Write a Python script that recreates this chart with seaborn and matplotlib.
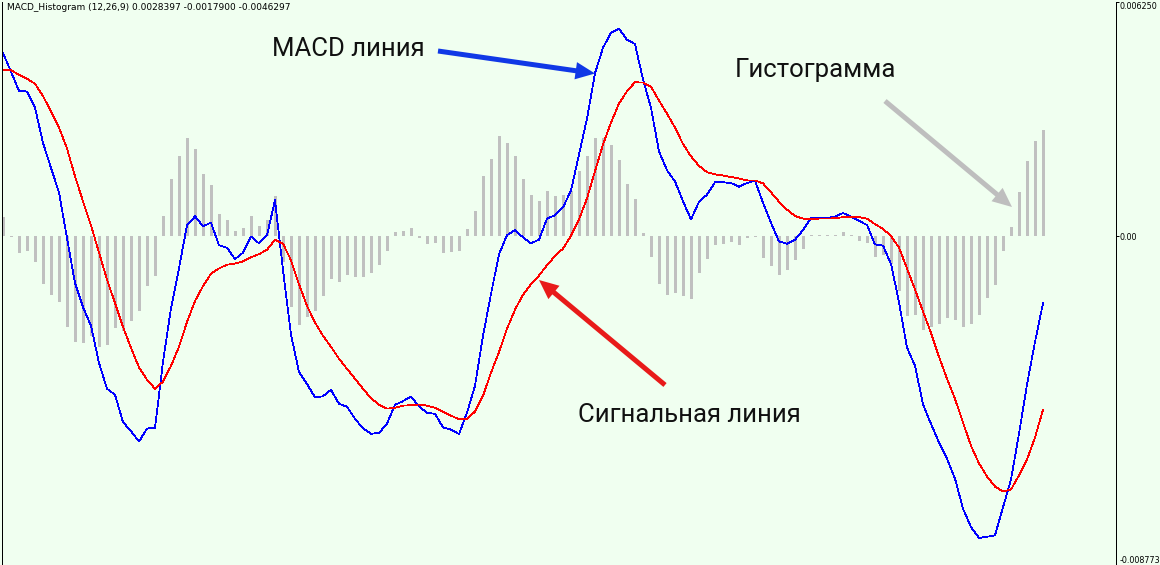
import numpy as np
import pandas as pd
import matplotlib
matplotlib.use("Agg")
import matplotlib.pyplot as plt
from matplotlib.patches import FancyArrowPatch
import seaborn as sns

# MACD (12,26,9) readings, one per bar
macd = [
    0.00489, 0.00439, 0.00388, 0.00386, 0.00343, 0.00249, 0.00182, 0.00117, -0.00005, -0.00125,
    -0.00189, -0.00239, -0.00338, -0.00407, -0.00423, -0.00496, -0.00520, -0.00548, -0.00513, -0.00512,
    -0.00335, -0.00192, -0.00085, 0.00029, 0.00053, 0.00027, 0.00036, -0.00024, -0.00031, -0.00061,
    -0.00044, -0.00001, -0.00019, 0.00003, 0.00096, -0.00090, -0.00263, -0.00362, -0.00394, -0.00430,
    -0.00427, -0.00410, -0.00447, -0.00455, -0.00487, -0.00513, -0.00527, -0.00525, -0.00500, -0.00450,
    -0.00440, -0.00428, -0.00454, -0.00471, -0.00474, -0.00510, -0.00516, -0.00528, -0.00471, -0.00399,
    -0.00266, -0.00154, -0.00048, 0.00003, 0.00016, -0.00003, -0.00019, -0.00009, 0.00047, 0.00056,
    0.00077, 0.00122, 0.00218, 0.00314, 0.00435, 0.00503, 0.00543, 0.00554, 0.00524, 0.00513,
    0.00418, 0.00343, 0.00226, 0.00176, 0.00146, 0.00093, 0.00045, 0.00092, 0.00111, 0.00144,
    0.00144, 0.00142, 0.00132, 0.00142, 0.00148, 0.00089, 0.00036, -0.00014, -0.00020, -0.00009,
    0.00016, 0.00049, 0.00049, 0.00049, 0.00052, 0.00062, 0.00052, 0.00041, 0.00030, -0.00022,
    -0.00025, -0.00074, -0.00176, -0.00297, -0.00346, -0.00448, -0.00501, -0.00550, -0.00594, -0.00647,
    -0.00727, -0.00776, -0.00805, -0.00802, -0.00798, -0.00724, -0.00649, -0.00527, -0.00396, -0.00282,
    -0.00179,
]

signal = [
    0.00444, 0.00443, 0.00431, 0.00420, 0.00407, 0.00374, 0.00333, 0.00290, 0.00234, 0.00160,
    0.00093, 0.00029, -0.00044, -0.00116, -0.00178, -0.00242, -0.00298, -0.00350, -0.00383, -0.00407,
    -0.00388, -0.00346, -0.00295, -0.00229, -0.00173, -0.00133, -0.00100, -0.00086, -0.00076, -0.00073,
    -0.00067, -0.00056, -0.00048, -0.00036, -0.00009, -0.00020, -0.00064, -0.00128, -0.00186, -0.00230,
    -0.00266, -0.00295, -0.00327, -0.00354, -0.00380, -0.00407, -0.00432, -0.00450, -0.00460, -0.00458,
    -0.00452, -0.00451, -0.00449, -0.00452, -0.00458, -0.00468, -0.00479, -0.00488, -0.00487, -0.00468,
    -0.00426, -0.00364, -0.00309, -0.00247, -0.00196, -0.00156, -0.00128, -0.00105, -0.00077, -0.00053,
    -0.00033, 0.00001, 0.00045, 0.00101, 0.00174, 0.00245, 0.00303, 0.00354, 0.00387, 0.00411,
    0.00410, 0.00399, 0.00362, 0.00327, 0.00290, 0.00246, 0.00213, 0.00188, 0.00171, 0.00165,
    0.00162, 0.00158, 0.00154, 0.00149, 0.00149, 0.00141, 0.00117, 0.00092, 0.00071, 0.00054,
    0.00047, 0.00046, 0.00047, 0.00047, 0.00048, 0.00051, 0.00051, 0.00051, 0.00047, 0.00032,
    0.00020, 0.00000, -0.00030, -0.00086, -0.00142, -0.00201, -0.00258, -0.00322, -0.00380, -0.00434,
    -0.00497, -0.00559, -0.00606, -0.00641, -0.00668, -0.00681, -0.00676, -0.00638, -0.00596, -0.00537,
    -0.00463,
]

histogram = [
    0.00051, -0.00001, -0.00044, -0.00040, -0.00069, -0.00128, -0.00158, -0.00176, -0.00241, -0.00282,
    -0.00285, -0.00266, -0.00295, -0.00290, -0.00244, -0.00253, -0.00226, -0.00200, -0.00133, -0.00105,
    0.00055, 0.00153, 0.00213, 0.00263, 0.00233, 0.00167, 0.00138, 0.00060, 0.00044, 0.00013,
    0.00023, 0.00053, 0.00028, 0.00042, 0.00106, -0.00069, -0.00189, -0.00237, -0.00215, -0.00200,
    -0.00160, -0.00113, -0.00122, -0.00104, -0.00109, -0.00109, -0.00098, -0.00077, -0.00040, 0.00011,
    0.00013, 0.00023, -0.00006, -0.00020, -0.00019, -0.00045, -0.00042, -0.00040, 0.00018, 0.00066,
    0.00161, 0.00207, 0.00268, 0.00250, 0.00213, 0.00153, 0.00109, 0.00095, 0.00122, 0.00106,
    0.00109, 0.00120, 0.00175, 0.00213, 0.00263, 0.00263, 0.00244, 0.00204, 0.00140, 0.00100,
    0.00009, -0.00056, -0.00128, -0.00157, -0.00151, -0.00160, -0.00168, -0.00098, -0.00060, -0.00023,
    -0.00021, -0.00016, -0.00024, -0.00004, -0.00003, -0.00058, -0.00080, -0.00104, -0.00090, -0.00064,
    -0.00035, 0.00003, 0.00002, 0.00002, 0.00003, 0.00011, 0.00002, -0.00013, -0.00018, -0.00055,
    -0.00049, -0.00074, -0.00146, -0.00213, -0.00211, -0.00250, -0.00242, -0.00233, -0.00219, -0.00224,
    -0.00242, -0.00233, -0.00211, -0.00166, -0.00130, -0.00040, 0.00024, 0.00117, 0.00201, 0.00255,
    0.00284,
]

price_ticks = [0.00625, 0.0, -0.008773]
price_labels = ["0.006250", "0.00", "-0.008773"]
header = "MACD_Histogram (12,26,9) 0.0028397 -0.0017900 -0.0046297"

BG = "#F0FFF0"
W, H = 1160, 565

sns.set_style("white")
plt.rcParams["font.family"] = ["DejaVu Sans"]

fig = plt.figure(figsize=(W / 100, H / 100), dpi=100)
fig.patch.set_facecolor(BG)
ax = fig.add_axes([2 / W, 0, 1114 / W, (H - 2) / H])
ax.set_facecolor(BG)

df = pd.DataFrame({
    "bar": np.arange(len(macd)),
    "macd": macd,
    "signal": signal,
    "hist": histogram,
})

sns.barplot(data=df, x="bar", y="hist", native_scale=True, width=0.375,
            color="#C0C0C0", saturation=1, errorbar=None, linewidth=0, ax=ax)
for p in ax.patches:
    p.set_antialiased(False)

sns.lineplot(data=df, x="bar", y="macd", color="#0000FF", linewidth=0.55,
             errorbar=None, antialiased=False, ax=ax)
sns.lineplot(data=df, x="bar", y="signal", color="#FF0000", linewidth=0.55,
             errorbar=None, antialiased=False, ax=ax)

ax.set_xlim(-0.125, 139.125)
ax.set_ylim(price_ticks[-1], price_ticks[0])
ax.set_xlabel("")
ax.set_ylabel("")
ax.set_xticks([])

ax.yaxis.tick_right()
ax.set_yticks(price_ticks, price_labels)
ax.tick_params(axis="y", direction="out", length=2.0, width=0.72, pad=0.6,
               labelsize=5.8, colors="black")
labels = ax.get_yticklabels()
labels[0].set_va("top")
labels[2].set_va("bottom")

for side in ("top", "bottom"):
    ax.spines[side].set_visible(False)
for side in ("left", "right"):
    ax.spines[side].set_visible(True)
    ax.spines[side].set_color("black")
    ax.spines[side].set_linewidth(0.72)

# indicator header
fig.text(7 / W, 1 - 3 / H, header, ha="left", va="top", fontsize=6.5, color="black")


def fx(x):
    return x / W


def fy(y):
    return 1 - y / H


caption_font = ["Roboto", "DejaVu Sans"]
fig.text(fx(272), fy(56), "MACD линия", ha="left", va="baseline",
         fontsize=18.5, color="#111111", family=caption_font)
fig.text(fx(735), fy(77.5), "Гистограмма", ha="left", va="baseline",
         fontsize=18.5, color="#111111", family=caption_font)
fig.text(fx(578), fy(421.5), "Сигнальная линия", ha="left", va="baseline",
         fontsize=18.5, color="#111111", family=caption_font)

arrow_style = "simple,head_length=14,head_width=12.5,tail_width=3.6"
for start, end, col in [
    ((438, 51), (595, 73.5), "#1038E6"),
    ((665, 385), (539, 280), "#E81A1A"),
    ((885, 101), (1012, 207), "#BEBEBE"),
]:
    arr = FancyArrowPatch((fx(start[0]), fy(start[1])), (fx(end[0]), fy(end[1])),
                          transform=fig.transFigure, arrowstyle=arrow_style,
                          mutation_scale=1, color=col, linewidth=0,
                          shrinkA=0, shrinkB=0)
    fig.add_artist(arr)

fig.savefig("out.png", dpi=100, facecolor=BG)
